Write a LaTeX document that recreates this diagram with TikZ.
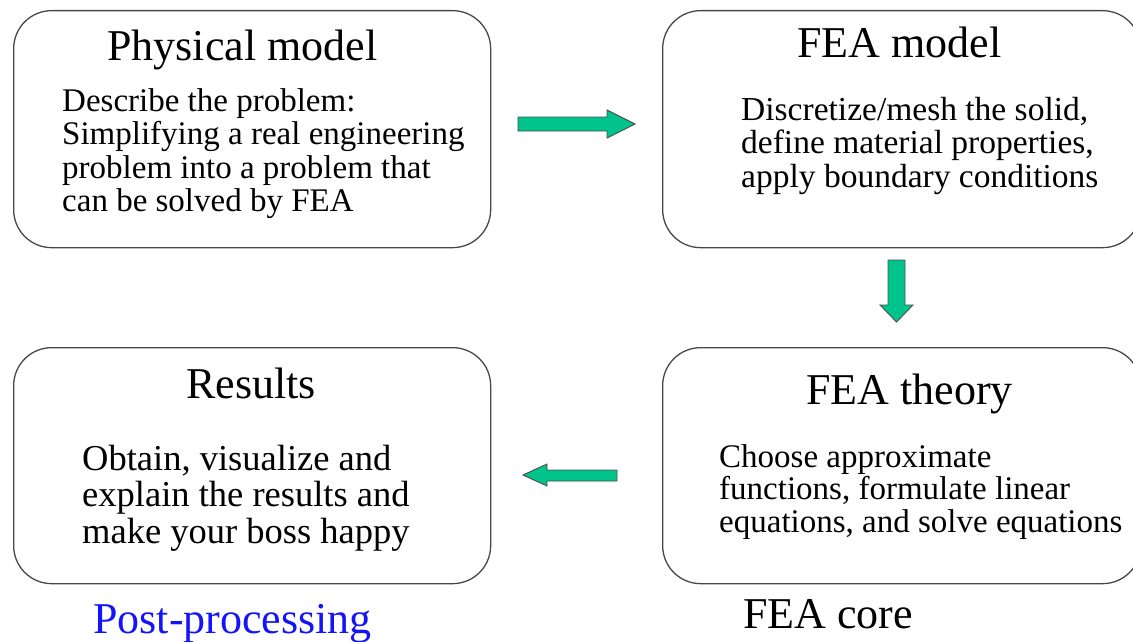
\documentclass[tikz,border=0pt]{standalone}
\usepackage{fontspec}
\setmainfont{Liberation Serif}
\definecolor{flowgreen}{RGB}{0,196,140}
\definecolor{postblue}{RGB}{20,20,250}
\begin{document}
\begin{tikzpicture}[x=1pt,y=-1pt,
  panel/.style={rectangle, draw=black!72, line width=1.3pt, rounded corners=38pt,
                inner sep=0pt, anchor=north west},
  heading/.style={anchor=base west, inner sep=0pt, font=\fontsize{44}{48}\selectfont},
  body/.style={anchor=base west, inner sep=0pt, align=left},
  flow/.style={fill=flowgreen, draw=black!70, line width=0.9pt, line join=miter}]
\useasboundingbox (0,0) rectangle (1133,642);

% the four stage panels
\node[panel, minimum width=477pt, minimum height=237pt] (phys)    at (13,10)  {};
\node[panel, minimum width=478pt, minimum height=237pt] (model)   at (662,10) {};
\node[panel, minimum width=477pt, minimum height=236pt] (results) at (13,347) {};
\node[panel, minimum width=478pt, minimum height=236pt] (theory)  at (662,347) {};

% panel titles
\node[heading] (physT)    at (107,61)  {Physical model};
\node[heading] (modelT)   at (797,58)  {FEA model};
\node[heading] (resultsT) at (186,398) {Results};
\node[heading] (theoryT)  at (806,404) {FEA theory};

% panel texts (placed by the baseline of their last line)
\node[body, font=\fontsize{33}{33.5}\selectfont] (physB) at (62,211.5)
  {Describe the problem:\\Simplifying a real engineering\\problem into a problem that\\can be solved by FEA};
\node[body, font=\fontsize{33.5}{33.5}\selectfont] (modelB) at (741,187)
  {Discretize/mesh the solid,\\define material properties,\\apply boundary conditions};
\node[body, font=\fontsize{33}{32.5}\selectfont] (theoryB) at (719,532)
  {Choose approximate\\functions, formulate linear\\equations, and solve equations};
\node[body, font=\fontsize{36.5}{36.5}\selectfont] (resultsB) at (82,543)
  {Obtain, visualize and\\explain the results and\\make your boss happy};

% captions below the lower panels
\node[heading, text=postblue] (post) at (93,633) {Post-processing};
\node[heading] (core) at (743,628) {FEA core};

% block arrows between the stages
\draw[flow] (518,117) -- (607,117) -- (607,110) -- (635,124) -- (607,138)
            -- (607,131) -- (518,131) -- cycle;
\draw[flow] (888,260) -- (905,260) -- (905,305) -- (913,305) -- (896.5,322)
            -- (880,305) -- (888,305) -- cycle;
\draw[flow] (617,470) -- (547,470) -- (547,464) -- (523,475) -- (547,486)
            -- (547,481) -- (617,481) -- cycle;
\end{tikzpicture}
\end{document}
